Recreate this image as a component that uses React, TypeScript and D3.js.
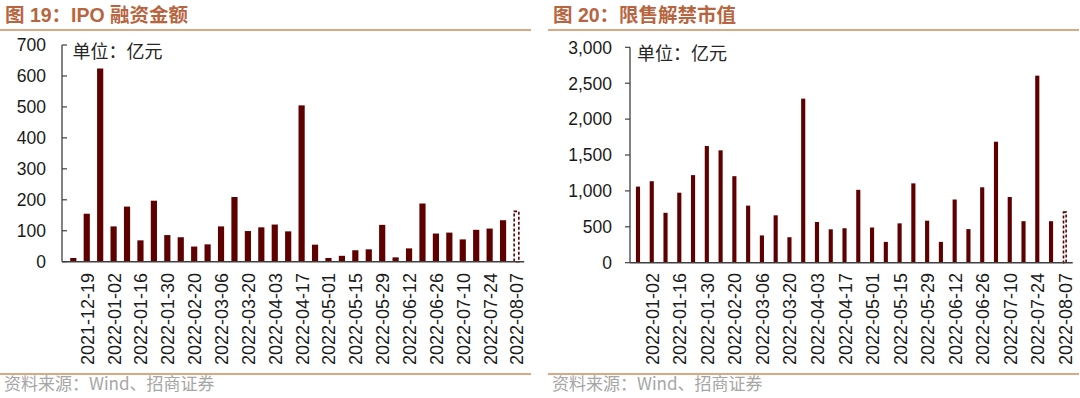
import { useEffect, useRef } from 'react'
import * as d3 from 'd3'

// weekly data, the last week of each chart is an estimate (dashed bar)
const ipoWeeks = [
  '2021-12-12', '2021-12-19', '2021-12-26', '2022-01-02', '2022-01-09', '2022-01-16',
  '2022-01-23', '2022-01-30', '2022-02-13', '2022-02-20', '2022-02-27', '2022-03-06',
  '2022-03-13', '2022-03-20', '2022-03-27', '2022-04-03', '2022-04-10', '2022-04-17',
  '2022-04-24', '2022-05-01', '2022-05-08', '2022-05-15', '2022-05-22', '2022-05-29',
  '2022-06-05', '2022-06-12', '2022-06-19', '2022-06-26', '2022-07-03', '2022-07-10',
  '2022-07-17', '2022-07-24', '2022-07-31', '2022-08-07',
]
const ipoValues = [
  12, 155, 624, 114, 178, 69, 197, 86, 79, 49, 56, 114, 209, 99, 111, 120, 98,
  505, 55, 12, 19, 37, 40, 119, 14, 43, 188, 91, 94, 72, 103, 107, 134, 165,
]
const ipoTicks = [0, 100, 200, 300, 400, 500, 600, 700]

const unlockWeeks = [
  '2021-12-26', '2022-01-02', '2022-01-09', '2022-01-16', '2022-01-23', '2022-01-30',
  '2022-02-13', '2022-02-20', '2022-02-27', '2022-03-06', '2022-03-13', '2022-03-20',
  '2022-03-27', '2022-04-03', '2022-04-10', '2022-04-17', '2022-04-24', '2022-05-01',
  '2022-05-08', '2022-05-15', '2022-05-22', '2022-05-29', '2022-06-05', '2022-06-12',
  '2022-06-19', '2022-06-26', '2022-07-03', '2022-07-10', '2022-07-17', '2022-07-24',
  '2022-07-31', '2022-08-07',
]
const unlockValues = [
  1060, 1135, 695, 975, 1220, 1625, 1565, 1205, 795, 380, 660, 355, 2285, 567, 465, 480,
  1015, 490, 290, 548, 1105, 585, 290, 880, 468, 1050, 1685, 915, 578, 2605, 578, 715,
]
const unlockTicks = [0, 500, 1000, 1500, 2000, 2500, 3000]

const estimateWeeks = ['2022-08-07']

const BAR = '#5e0000'
const TITLE = '#b8653f'
const RULE = '#d9a986'
const SANS = '"Liberation Sans", Arial, "Noto Sans CJK SC", sans-serif'
const CJK = '"Noto Sans CJK SC", sans-serif'

function Panel({ ox, title, weeks, values, ticks, fmt, axisX, left, right, bottom, top, barW, tickDir, labelEnd }) {
  const ref = useRef(null)

  useEffect(() => {
    const g = d3.select(ref.current)
    g.selectAll('*').remove()

    const x = d3.scaleBand().domain(weeks).range([left, right])
    const y = d3.scaleLinear().domain([0, d3.max(ticks)]).range([bottom, top])
    const bw = x.bandwidth() * barW

    // title + rules
    g.append('text').attr('x', 5).attr('y', 22)
      .style('font-family', SANS).style('font-weight', 700).style('font-size', '19.5px')
      .attr('fill', TITLE).text(title)
    g.append('line').attr('x1', 0).attr('x2', 531).attr('y1', 30).attr('y2', 30)
      .attr('stroke', RULE).attr('stroke-width', 2)
    g.append('line').attr('x1', 0).attr('x2', 531).attr('y1', 374).attr('y2', 374)
      .attr('stroke', RULE).attr('stroke-width', 2)
    g.append('text').attr('x', 4).attr('y', 390)
      .style('font-family', CJK).style('font-size', '17px')
      .attr('fill', '#a6a6a6').text('资料来源：Wind、招商证券')

    // bars
    const solid = weeks.map((w, i) => ({ w, v: values[i] })).filter(d => !estimateWeeks.includes(d.w))
    const est = weeks.map((w, i) => ({ w, v: values[i] })).filter(d => estimateWeeks.includes(d.w))
    g.selectAll('rect.bar').data(solid).enter().append('rect')
      .attr('class', 'bar')
      .attr('x', d => x(d.w) + (x.bandwidth() - bw) / 2)
      .attr('width', bw)
      .attr('y', d => y(d.v))
      .attr('height', d => y(0) - y(d.v))
      .attr('fill', BAR)
    g.selectAll('rect.est').data(est).enter().append('rect')
      .attr('class', 'est')
      .attr('x', d => x(d.w) + (x.bandwidth() - bw) / 2 + 0.75)
      .attr('width', bw - 1.5)
      .attr('y', d => y(d.v) + 0.75)
      .attr('height', d => y(0) - y(d.v) - 0.75)
      .attr('fill', '#fff')
      .attr('stroke', BAR).attr('stroke-width', 1.6).attr('stroke-dasharray', '3,2')

    // y axis
    g.append('line').attr('x1', axisX).attr('x2', axisX).attr('y1', y(d3.max(ticks))).attr('y2', y(0))
      .attr('stroke', '#404040').attr('stroke-width', 1.3)
    g.selectAll('line.tick').data(ticks).enter().append('line')
      .attr('x1', axisX).attr('x2', axisX + tickDir * 5)
      .attr('y1', d => y(d)).attr('y2', d => y(d))
      .attr('stroke', '#404040').attr('stroke-width', 1.2)
    g.selectAll('text.ylab').data(ticks).enter().append('text')
      .attr('x', labelEnd).attr('y', d => y(d)).attr('dy', '0.36em')
      .attr('text-anchor', 'end')
      .style('font-family', SANS).style('font-size', '17.5px').attr('fill', '#1a1a1a')
      .text(d => fmt(d))

    // x axis
    g.append('line').attr('x1', axisX).attr('x2', right + 1).attr('y1', y(0)).attr('y2', y(0))
      .attr('stroke', '#404040').attr('stroke-width', 1.5)
    g.selectAll('text.xlab').data(weeks.filter((d, i) => i % 2 === 1)).enter().append('text')
      .attr('transform', d => `translate(${x(d) + x.bandwidth() / 2 + 0.5},273) rotate(-90)`)
      .attr('text-anchor', 'end').attr('dy', '0.36em')
      .style('font-family', SANS).style('font-size', '18px').attr('fill', '#1a1a1a')
      .text(d => d)

    g.append('text').attr('x', left + 6).attr('y', y(d3.max(ticks)) + 13)
      .style('font-family', CJK).style('font-size', '18px').attr('fill', '#262626')
      .text('单位：亿元')
  }, [weeks, values, ticks])

  return <g ref={ref} transform={`translate(${ox},0)`} />
}

export default function App() {
  return (
    <svg width={1080} height={398} style={{ position: 'absolute', left: 0, top: 0, background: '#fff' }}>
      <Panel ox={0} title="图 19：IPO 融资金额" weeks={ipoWeeks} values={ipoValues} ticks={ipoTicks}
        fmt={d3.format('d')} axisX={62} left={66.6} right={523.2} bottom={261.7} top={45}
        barW={0.46} tickDir={1} labelEnd={46} />
      <Panel ox={548} title="图 20：限售解禁市值" weeks={unlockWeeks} values={unlockValues} ticks={unlockTicks}
        fmt={d3.format(',')} axisX={82} left={83.1} right={523.7} bottom={262.7} top={47.3}
        barW={0.3} tickDir={-1} labelEnd={64} />
    </svg>
  )
}
